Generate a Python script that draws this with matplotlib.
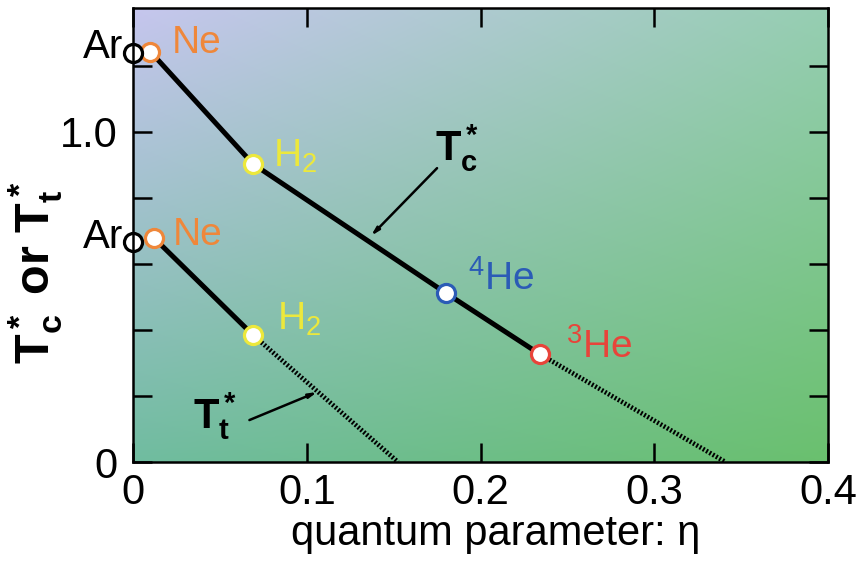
import numpy as np
import matplotlib.pyplot as plt

plt.rcParams['font.family'] = ['Liberation Sans', 'DejaVu Sans']
plt.rcParams['mathtext.fontset'] = 'custom'
plt.rcParams['mathtext.rm'] = 'Liberation Sans'
plt.rcParams['mathtext.it'] = 'Liberation Sans:italic'
plt.rcParams['mathtext.bf'] = 'Liberation Sans:bold'

# critical temperature T_c* vs quantum parameter eta
names_c = ['Ar', 'Ne', r'H$_\mathrm{2}$', r'$^\mathrm{4}$He', r'$^\mathrm{3}$He']
eta_c = [0.0, 0.010, 0.069, 0.180, 0.234]
tc = [1.240, 1.243, 0.903, 0.512, 0.327]
eta_c_ext = [0.234, 0.341]
tc_ext = [0.327, 0.0]

# triple point temperature T_t*
names_t = ['Ar', 'Ne', r'H$_\mathrm{2}$']
eta_t = [0.0, 0.012, 0.069]
tt = [0.667, 0.679, 0.385]
eta_t_ext = [0.069, 0.1525]
tt_ext = [0.385, 0.0]

colors = {'Ar': 'black', 'Ne': '#ef873a', 'H': '#ece83c', '4': '#2b5bb6', '3': '#e8443a'}

xticks = [0, 0.1, 0.2, 0.3, 0.4]
xticklabels = ['0', '0.1', '0.2', '0.3', '0.4']
yticks = [0, 0.2, 0.4, 0.6, 0.8, 1.0, 1.2]
yticklabels = ['0', '', '', '', '', '1.0', '']


def col(name):
    if name.startswith('Ar'):
        return colors['Ar']
    if name.startswith('Ne'):
        return colors['Ne']
    if name.startswith('H'):
        return colors['H']
    return colors['4'] if '4' in name else colors['3']


fig = plt.figure(figsize=(8.63, 5.63), dpi=100)
ax = fig.add_axes([133 / 863, 1 - 462 / 563, 695 / 863, 454 / 563])
xmax, ymax = 0.4, 1.375
ax.set_xlim(0, xmax)
ax.set_ylim(0, ymax)

# background gradient: lavender top-left -> green bottom-right
tl = np.array([198, 198, 238]) / 255
tr = np.array([150, 206, 178]) / 255
bl = np.array([112, 188, 160]) / 255
br = np.array([106, 192, 110]) / 255
u = np.linspace(0, 1, 300)[None, :, None]
v = np.linspace(0, 1, 200)[:, None, None]
img = (1 - v) * ((1 - u) * tl + u * tr) + v * ((1 - u) * bl + u * br)
ax.imshow(img, extent=[0, xmax, 0, ymax], aspect='auto', zorder=0, origin='upper')

lw = 3.6
dots = (0, (0.4, 0.4))
ax.plot(eta_c[1:], tc[1:], color='black', lw=lw, zorder=2, solid_capstyle='butt')
ax.plot(eta_c_ext, tc_ext, color='black', lw=3.4, ls=dots, zorder=2)
ax.plot(eta_t[1:], tt[1:], color='black', lw=lw, zorder=2, solid_capstyle='butt')
ax.plot(eta_t_ext, tt_ext, color='black', lw=3.4, ls=dots, zorder=2)

for names, xs, ys in [(names_c, eta_c, tc), (names_t, eta_t, tt)]:
    for n, x, y in zip(names, xs, ys):
        z = 5 if n == 'Ar' else 4
        ax.plot(x, y, 'o', ms=13, mfc='white', mec=col(n), mew=2.3,
                zorder=z, clip_on=False)

# label offsets (pixels) relative to markers
offs_c = [(-10, -5), (21, -1), (20, -3), (22, 3), (26, -4)]
offs_t = [(-10, -6), (19, -7), (24, 5)]
for names, xs, ys, offs in [(names_c, eta_c, tc, offs_c), (names_t, eta_t, tt, offs_t)]:
    for n, x, y, o in zip(names, xs, ys, offs):
        ha = 'right' if n == 'Ar' else 'left'
        fs = 29 if n == 'Ar' else 28
        ax.annotate(n, (x, y), xytext=o, textcoords='offset pixels', ha=ha,
                    va='baseline', fontsize=fs, color=col(n), zorder=6,
                    annotation_clip=False)

# curve labels with arrows
arrow = dict(arrowstyle='-|>,head_length=0.45,head_width=0.12',
             lw=1.8, color='black', shrinkA=0, shrinkB=0)
ax.text(0.174, 0.912, r'$\mathbf{T_c^*}$', fontsize=30, ha='left', va='baseline')
ax.annotate('', xy=(0.137, 0.685), xytext=(0.175, 0.89), arrowprops=arrow)
ax.text(0.0345, 0.10, r'$\mathbf{T_t^*}$', fontsize=30, ha='left', va='baseline')
ax.annotate('', xy=(0.106, 0.212), xytext=(0.067, 0.127), arrowprops=arrow)

ax.set_xticks(xticks)
ax.set_xticklabels(xticklabels)
ax.set_yticks(yticks)
ax.set_yticklabels(yticklabels)
ax.tick_params(direction='in', length=14, width=1.8, top=True, right=True,
               labelsize=30, colors='black')
ax.tick_params(axis='x', pad=8)
ax.tick_params(axis='y', pad=11)
for s in ax.spines.values():
    s.set_linewidth(1.8)
    s.set_zorder(7)

fig.text(496 / 863, 1 - 545 / 563, 'quantum parameter: η', fontsize=30,
         ha='center', va='baseline')
fig.text(36 / 863, 1 - 273 / 563, r'$\mathbf{T_c^*}$ or $\mathbf{T_t^*}$',
         fontsize=35, fontweight='bold', rotation=90, ha='center', va='center')

fig.savefig('out.png', dpi=100)
